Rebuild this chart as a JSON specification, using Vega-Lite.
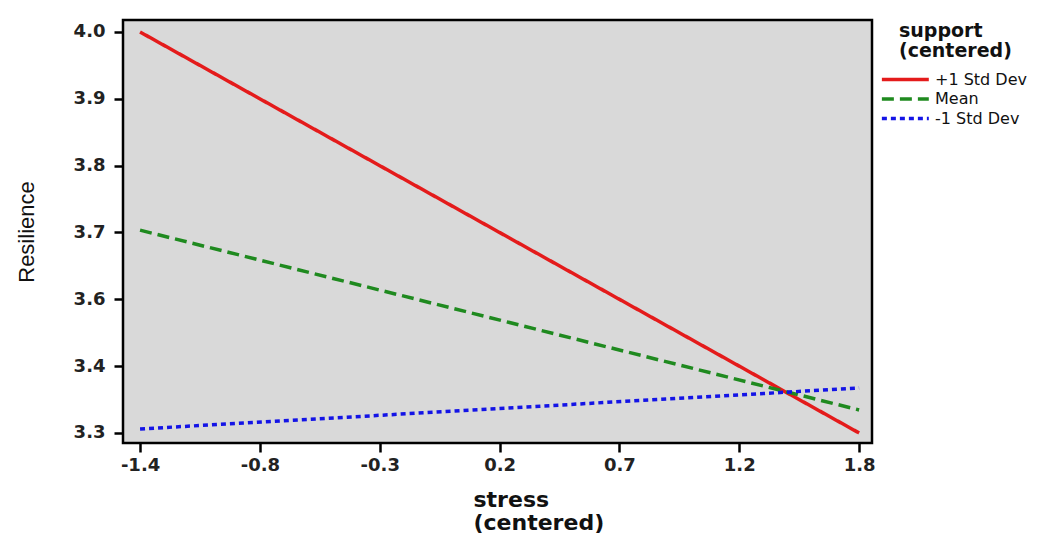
{
  "$schema": "https://vega.github.io/schema/vega-lite/v6.json",
  "width": 749,
  "height": 423,
  "autosize": {"type": "none"},
  "padding": {"left": 123, "top": 20, "right": 173, "bottom": 90},
  "background": "white",
  "data": {
    "values": [
      {"stress": -1.36, "resilience": 4.016, "support": "+1 Std Dev"},
      {"stress": 1.76, "resilience": 3.32, "support": "+1 Std Dev"},
      {"stress": -1.36, "resilience": 3.672, "support": "Mean"},
      {"stress": 1.76, "resilience": 3.36, "support": "Mean"},
      {"stress": -1.36, "resilience": 3.327, "support": "-1 Std Dev"},
      {"stress": 1.76, "resilience": 3.398, "support": "-1 Std Dev"}
    ]
  },
  "mark": {"type": "line", "strokeWidth": 3.5},
  "encoding": {
    "x": {
      "field": "stress",
      "type": "quantitative",
      "scale": {"domain": [-1.434, 1.816], "nice": false, "zero": false},
      "axis": {
        "title": ["stress", "(centered)"],
        "values": [-1.36, -0.84, -0.32, 0.2, 0.72, 1.24, 1.76],
        "labelExpr": "replace(format(datum.value, '.1f'), '\u2212', '-')",
        "titleX": 350,
        "titleY": 63,
        "titleAlign": "left",
        "titleAnchor": null,
        "titleBaseline": "alphabetic",
        "titleFont": "DejaVu Sans",
        "titleFontWeight": "bold",
        "titleFontSize": 22,
        "titleLineHeight": 23,
        "titleColor": "#111111",
        "labelPadding": 4
      }
    },
    "y": {
      "field": "resilience",
      "type": "quantitative",
      "scale": {"domain": [3.3026, 4.0368], "nice": false, "zero": false},
      "axis": {
        "title": "Resilience",
        "values": [3.32, 3.436, 3.552, 3.668, 3.784, 3.9, 4.016],
        "labelExpr": "format(datum.value, '.1f')",
        "titleFont": "Liberation Sans",
        "titleFontWeight": "normal",
        "titleFontSize": 22,
        "titleColor": "#111111",
        "titlePadding": 35,
        "labelPadding": 9
      }
    },
    "color": {
      "field": "support",
      "type": "nominal",
      "title": ["support", "(centered)"],
      "scale": {
        "domain": ["+1 Std Dev", "Mean", "-1 Std Dev"],
        "range": ["#e41b1b", "#1f8a1f", "#1414e6"]
      },
      "legend": {
        "orient": "none",
        "legendX": 776,
        "legendY": 2
      }
    },
    "strokeDash": {
      "field": "support",
      "type": "nominal",
      "title": ["support", "(centered)"],
      "scale": {
        "domain": ["+1 Std Dev", "Mean", "-1 Std Dev"],
        "range": [[1, 0], [12, 6], [5, 4]]
      },
      "legend": {
        "orient": "none",
        "legendX": 776,
        "legendY": 2
      }
    }
  },
  "config": {
    "view": {"fill": "#d9d9d9", "stroke": "#000000", "strokeWidth": 2.5},
    "axis": {
      "grid": false,
      "domain": false,
      "ticks": true,
      "tickColor": "#000000",
      "tickWidth": 2.5,
      "tickSize": 9,
      "labelFont": "DejaVu Sans",
      "labelFontWeight": "bold",
      "labelFontSize": 18,
      "labelColor": "#222222"
    },
    "legend": {
      "titleFont": "DejaVu Sans",
      "titleFontWeight": "bold",
      "titleFontSize": 19,
      "titleColor": "#111111",
      "titleLineHeight": 20,
      "titleAnchor": "start",
      "titleAlign": "left",
      "titlePadding": 8,
      "labelFont": "DejaVu Sans",
      "labelFontSize": 16,
      "labelColor": "#111111",
      "labelOffset": 15,
      "labelLimit": 200,
      "symbolType": "M-3.19,0H2.23",
      "symbolSize": 300,
      "symbolStrokeWidth": 3.5,
      "rowPadding": 0.5
    }
  }
}
